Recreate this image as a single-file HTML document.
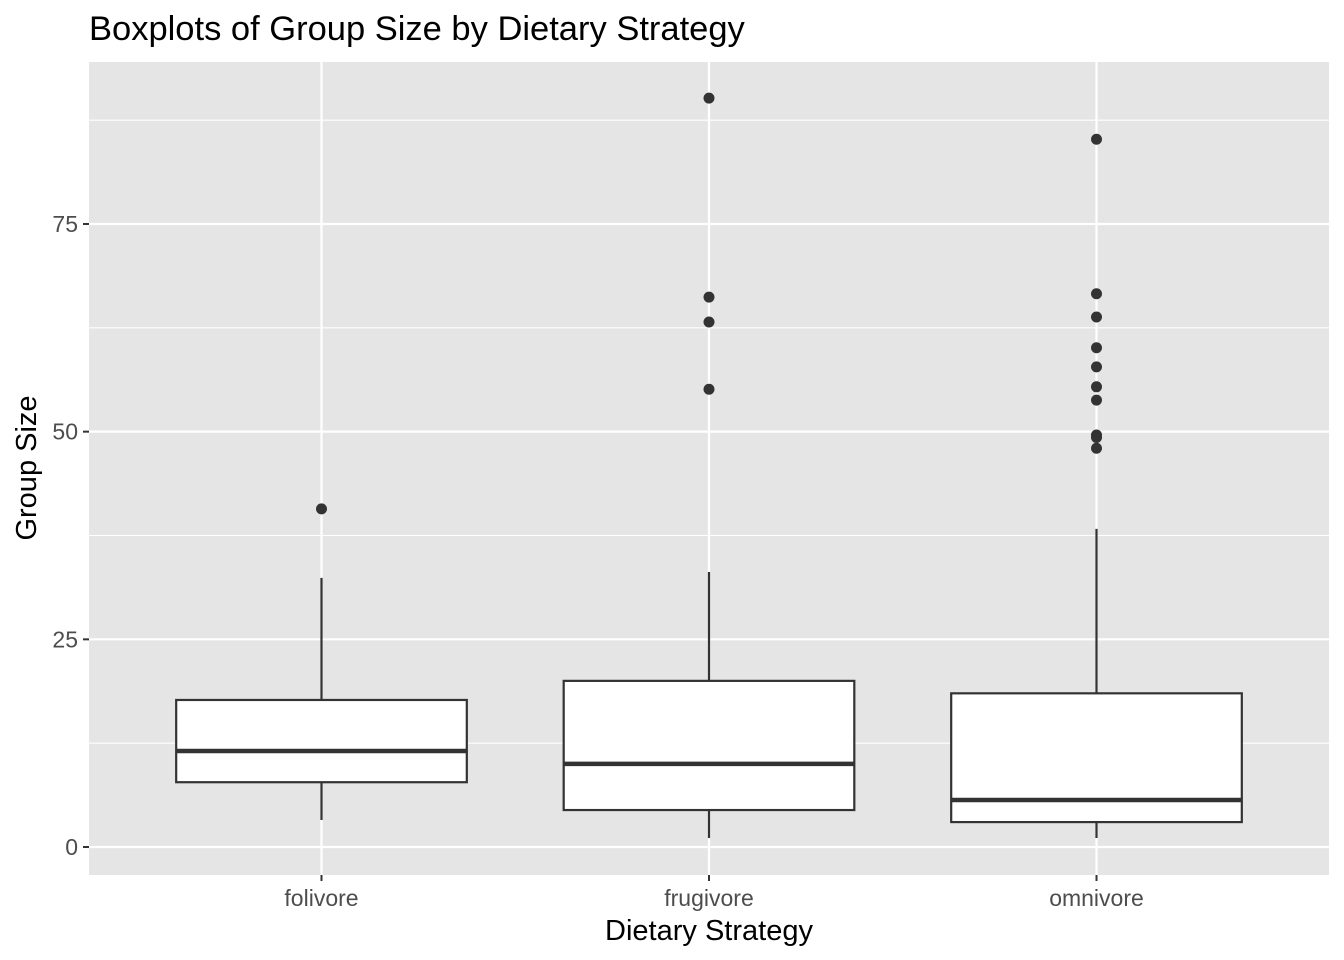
<!DOCTYPE html>
<html><head><meta charset="utf-8"><style>
body{margin:0;background:#fff;}
svg{display:block;font-family:"Liberation Sans",Arial,sans-serif;}
</style></head><body>
<svg id="chart" width="1344" height="960">
<text x="89" y="40" font-size="34.5" fill="#000">Boxplots of Group Size by Dietary Strategy</text>
<rect x="89" y="62" width="1240" height="813" fill="#e5e5e5"/>
<g id="grid"></g><g id="marks"></g><g id="axes"></g>
<text x="709" y="940" font-size="29" text-anchor="middle">Dietary Strategy</text>
<text transform="translate(36,468) rotate(-90)" font-size="29" text-anchor="middle">Group Size</text>
</svg>
<script>
const categories=["folivore","frugivore","omnivore"];
const q1=[7.8,4.45,3.0];
const medians=[11.55,10,5.66];
const q3=[17.7,20,18.5];
const whiskerLow=[3.25,1.08,1.08];
const whiskerHigh=[32.4,33.1,38.3];
const outliers=[[40.7],[90.15,66.2,63.2,55.1],[85.2,66.6,63.8,60.1,57.8,55.4,53.8,49.6,49.3,48.0]];
const yTicks=[0,25,50,75];
const yMinor=[12.5,37.5,62.5,87.5];
const NS="http://www.w3.org/2000/svg";
const px0=89,px1=1329,py0=62,py1=875,ymin=-3.37,ymax=94.5;
const y=v=>py1-(v-ymin)/(ymax-ymin)*(py1-py0);
const step=(px1-px0)/(categories.length+0.2);
const x=i=>px0+step*(i+0.6);
const bw=step*0.75;
function mk(p,t,a){const e=document.createElementNS(NS,t);for(const k in a)e.setAttribute(k,a[k]);p.appendChild(e);return e;}
const g=document.getElementById('grid'),m=document.getElementById('marks'),ax=document.getElementById('axes');
yMinor.forEach(v=>{const l=mk(g,'line',{x1:px0,x2:px1,y1:y(v),y2:y(v),stroke:'#fff','stroke-width':1.1});

});
yTicks.forEach(v=>{const l=mk(g,'line',{x1:px0,x2:px1,y1:y(v),y2:y(v),stroke:'#fff','stroke-width':2.2});


const t=mk(ax,'line',{x1:px0-6,x2:px0,y1:y(v),y2:y(v),stroke:'#333','stroke-width':2});


const tx=mk(ax,'text',{x:px0-11,y:y(v)+8,'font-size':23,fill:'#4d4d4d','text-anchor':'end'});tx.textContent=v;

});
categories.forEach((c,i)=>{const cx=x(i);
const l=mk(g,'line',{x1:cx,x2:cx,y1:py0,y2:py1,stroke:'#fff','stroke-width':2.2});


const t=mk(ax,'line',{x1:cx,x2:cx,y1:py1,y2:py1+6,stroke:'#333','stroke-width':2});


const tx=mk(ax,'text',{x:cx,y:py1+31,'font-size':23,fill:'#4d4d4d','text-anchor':'middle'});tx.textContent=c;


const grp=mk(m,'g',{});


mk(grp,'line',{x1:cx,x2:cx,y1:y(whiskerLow[i]),y2:y(q1[i]),stroke:'#333','stroke-width':2.2});
mk(grp,'line',{x1:cx,x2:cx,y1:y(q3[i]),y2:y(whiskerHigh[i]),stroke:'#333','stroke-width':2.2});
mk(grp,'rect',{x:cx-bw/2,y:y(q3[i]),width:bw,height:y(q1[i])-y(q3[i]),fill:'#fff',stroke:'#333','stroke-width':2.2});
mk(grp,'line',{x1:cx-bw/2,x2:cx+bw/2,y1:y(medians[i]),y2:y(medians[i]),stroke:'#333','stroke-width':4.5});
outliers[i].forEach(v=>{const p=mk(m,'circle',{cx:cx,cy:y(v),r:5.5,fill:'#333'});

});
});
</script>
</body></html>
